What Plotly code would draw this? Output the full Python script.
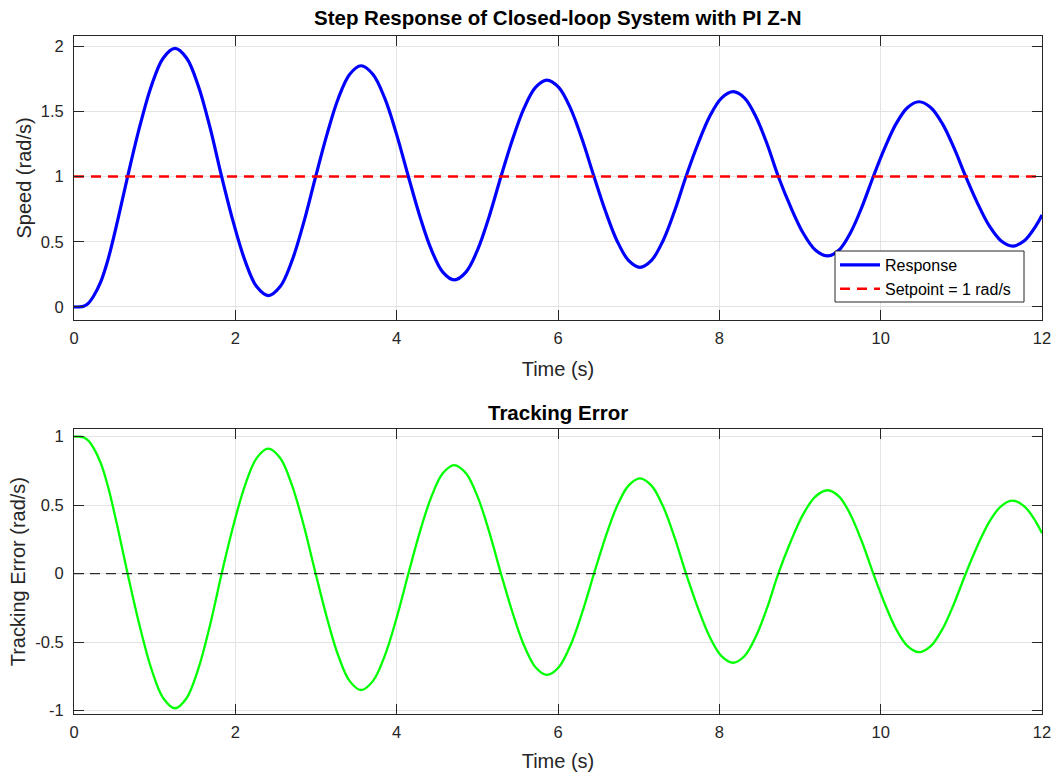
import plotly.graph_objects as go

# ---- data ----
time_pts = [0.0, 0.06, 0.12, 0.18, 0.24, 0.33, 0.42, 0.54,
            0.665, 0.812, 0.959, 1.105, 1.252, 1.397, 1.541, 1.686,
            1.83, 1.975, 2.120, 2.264, 2.409, 2.556, 2.703, 2.849,
            2.996, 3.137, 3.277, 3.418, 3.558, 3.705, 3.852, 3.998,
            4.145, 4.287, 4.430, 4.572, 4.714, 4.859, 5.004, 5.148,
            5.293, 5.436, 5.578, 5.721, 5.863, 6.009, 6.155, 6.300,
            6.446, 6.589, 6.731, 6.874, 7.016, 7.159, 7.302, 7.444,
            7.587, 7.734, 7.880, 8.027, 8.173, 8.313, 8.452, 8.592,
            8.731, 8.884, 9.037, 9.190, 9.343, 9.485, 9.626, 9.768,
            9.909, 10.051, 10.192, 10.334, 10.475, 10.620, 10.765, 10.909,
            11.054, 11.200, 11.345, 11.491, 11.636, 11.781, 11.926, 12.0]
response = [0.0, 0.0, 0.005, 0.03, 0.08, 0.19, 0.36, 0.66,
            1.0, 1.376, 1.694, 1.907, 1.982, 1.907, 1.694, 1.376,
            1.0, 0.650, 0.355, 0.156, 0.087, 0.156, 0.355, 0.650,
            1.0, 1.325, 1.600, 1.784, 1.849, 1.784, 1.600, 1.325,
            1.0, 0.696, 0.439, 0.267, 0.207, 0.267, 0.439, 0.696,
            1.0, 1.283, 1.522, 1.683, 1.739, 1.683, 1.522, 1.283,
            1.0, 0.733, 0.508, 0.357, 0.304, 0.357, 0.508, 0.733,
            1.0, 1.249, 1.460, 1.601, 1.650, 1.601, 1.460, 1.249,
            1.0, 0.767, 0.569, 0.437, 0.391, 0.437, 0.569, 0.767,
            1.0, 1.219, 1.405, 1.529, 1.573, 1.529, 1.405, 1.219,
            1.0, 0.796, 0.623, 0.508, 0.467, 0.508, 0.623, 0.705]
tracking_error = [1.0, 1.0, 0.995, 0.97, 0.92, 0.81, 0.64, 0.34,
                  0.0, -0.376, -0.694, -0.907, -0.982, -0.907, -0.694, -0.376,
                  0.0, 0.350, 0.645, 0.844, 0.913, 0.844, 0.645, 0.350,
                  0.0, -0.325, -0.600, -0.784, -0.849, -0.784, -0.600, -0.325,
                  0.0, 0.304, 0.561, 0.733, 0.793, 0.733, 0.561, 0.304,
                  0.0, -0.283, -0.522, -0.683, -0.739, -0.683, -0.522, -0.283,
                  0.0, 0.267, 0.492, 0.643, 0.696, 0.643, 0.492, 0.267,
                  0.0, -0.249, -0.460, -0.601, -0.650, -0.601, -0.460, -0.249,
                  0.0, 0.233, 0.431, 0.563, 0.609, 0.563, 0.431, 0.233,
                  0.0, -0.219, -0.405, -0.529, -0.573, -0.529, -0.405, -0.219,
                  0.0, 0.204, 0.377, 0.492, 0.533, 0.492, 0.377, 0.295]
setpoint_t = [0, 12]
setpoint_v = [1, 1]
zero_v = [0, 0]

x_ticks = [0, 2, 4, 6, 8, 10, 12]
x_ticktext = ["0", "2", "4", "6", "8", "10", "12"]
y1_ticks = [0, 0.5, 1, 1.5, 2]
y1_ticktext = ["0", "0.5", "1", "1.5", "2"]
y2_ticks = [-1, -0.5, 0, 0.5, 1]
y2_ticktext = ["-1", "-0.5", "0", "0.5", "1"]

FONT = "Arial, 'Liberation Sans', Helvetica, sans-serif"
AXC = "#262626"

fig = go.Figure()
fig.add_trace(go.Scatter(x=time_pts, y=response, mode="lines", name="Response",
                         line=dict(color="#0000FF", width=3.2, shape="spline", smoothing=1.0),
                         xaxis="x", yaxis="y"))
fig.add_trace(go.Scatter(x=setpoint_t, y=setpoint_v, mode="lines", name="Setpoint = 1 rad/s",
                         line=dict(color="#FF0000", width=2.5, dash="10px,7px"),
                         xaxis="x", yaxis="y"))
fig.add_trace(go.Scatter(x=time_pts, y=tracking_error, mode="lines", showlegend=False,
                         line=dict(color="#00FF00", width=2.3, shape="spline", smoothing=1.0),
                         xaxis="x2", yaxis="y2"))
fig.add_trace(go.Scatter(x=setpoint_t, y=zero_v, mode="lines", showlegend=False,
                         line=dict(color="#000000", width=1, dash="10px,6px"),
                         xaxis="x2", yaxis="y2"))

W, H = 1059, 776
ML, MR, MT, MB = 74, 17, 36, 62
PW = W - ML - MR
PH = H - MT - MB
y1dom = [1 - (320 - MT) / PH, 1.0]
y2dom = [0.0, 1 - (429.3 - MT) / PH]


def px_x(px):
    return (px - ML) / PW


def px_y(py):
    return (H - MB - py) / PH


common_axis = dict(showline=True, linecolor=AXC, linewidth=1, mirror="ticks",
                   ticks="inside", ticklen=10, tickwidth=1, tickcolor=AXC,
                   showgrid=True, gridcolor="#e3e3e3", gridwidth=1, zeroline=False,
                   automargin=False,
                   tickfont=dict(family=FONT, size=16.5, color=AXC))
title_font = dict(family=FONT, size=20, color=AXC)

fig.update_layout(
    width=W, height=H, margin=dict(l=ML, r=MR, t=MT, b=MB, autoexpand=False),
    paper_bgcolor="white", plot_bgcolor="white",
    xaxis=dict(domain=[0, 1], anchor="y", range=[0, 12], tickvals=x_ticks, ticktext=x_ticktext,
               ticklabelstandoff=3,
               title=dict(text="Time (s)", font=title_font, standoff=16),
               **common_axis),
    yaxis=dict(domain=y1dom, anchor="x", range=[-0.1, 2.077], tickvals=y1_ticks, ticktext=y1_ticktext,
               ticklabelstandoff=6,
               title=dict(text="Speed (rad/s)", font=title_font, standoff=3),
               **common_axis),
    xaxis2=dict(domain=[0, 1], anchor="y2", range=[0, 12], tickvals=x_ticks, ticktext=x_ticktext,
                ticklabelstandoff=3,
                title=dict(text="Time (s)", font=title_font, standoff=14),
                **common_axis),
    yaxis2=dict(domain=y2dom, anchor="x2", range=[-1.024, 1.054], tickvals=y2_ticks, ticktext=y2_ticktext,
                ticklabelstandoff=6,
                title=dict(text="Tracking Error (rad/s)", font=title_font, standoff=4),
                **common_axis),
    legend=dict(x=px_x(835), y=px_y(248), xref="paper", yref="paper",
                xanchor="left", yanchor="top", itemwidth=40,
                bgcolor="rgba(0,0,0,0)", borderwidth=0,
                font=dict(family=FONT, size=16, color="black"),
                tracegroupgap=0),
    showlegend=True,
    shapes=[dict(type="rect", xref="paper", yref="paper",
                 x0=px_x(835), x1=px_x(1024), y0=px_y(302), y1=px_y(251),
                 line=dict(color=AXC, width=1), fillcolor="white", layer="above")],
    annotations=[
        dict(text="<b>Step Response of Closed-loop System with PI Z-N</b>", x=px_x(558), y=px_y(18),
             xref="paper", yref="paper", showarrow=False, xanchor="center", yanchor="middle",
             font=dict(family=FONT, size=20.5, color="black")),
        dict(text="<b>Tracking Error</b>", x=px_x(558), y=px_y(412),
             xref="paper", yref="paper", showarrow=False, xanchor="center", yanchor="middle",
             font=dict(family=FONT, size=20.5, color="black")),
    ],
)

fig.write_html("out.html", config={"displayModeBar": False},
               post_script="document.body.style.margin='0px';document.body.style.overflow='hidden';")
